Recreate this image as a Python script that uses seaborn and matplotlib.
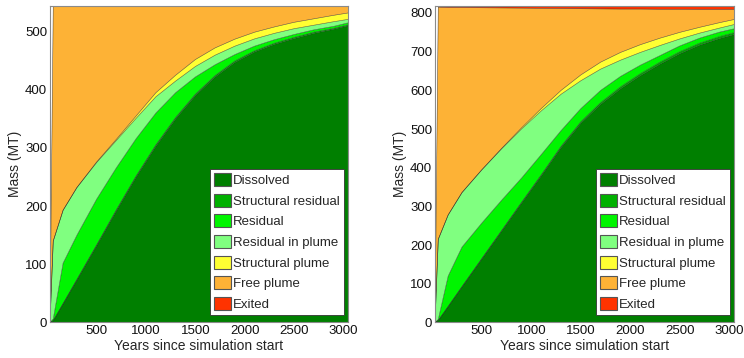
import numpy as np
import pandas as pd
import matplotlib
matplotlib.use("Agg")
import matplotlib.pyplot as plt
from matplotlib.patches import Patch
import seaborn as sns

# ---------------- data ----------------
years = [27, 60, 160, 300, 500, 700, 900, 1100, 1300, 1500, 1700, 1900,
         2100, 2300, 2500, 2700, 2900, 3045]

components = ["Dissolved", "Structural residual", "Residual", "Residual in plume",
              "Structural plume", "Free plume", "Exited"]

# left panel
L_dissolved = [0, 3, 32, 73, 132, 192, 250, 303, 350, 390, 422, 447, 465, 478, 488, 497, 504, 510]
L_struct_res = [0, 0, 0.5, 1, 1.5, 2, 2, 2.5, 2.5, 2.5, 2.5, 2.5, 2, 2, 2, 2, 1.5, 1.5]
L_residual = [0, 3, 69.5, 76, 78.5, 72, 64, 54.5, 42.5, 29.5, 18.5, 11, 8, 6, 5, 4, 3.5, 3.5]
L_res_plume = [0, 134, 91, 82, 63, 47, 35, 28, 20, 18, 16.5, 14.5, 12.5, 11, 10, 8, 8, 6]
L_struct_plume = [0, 0, 0, 0, 1, 2, 4, 7, 10, 12, 12.5, 12, 11.5, 11, 11, 11, 11, 11]
L_free_plume = [0, 404, 351, 312, 268, 229, 189, 149, 119, 92, 72, 57, 45, 36, 28, 22, 16, 12]
L_exited = [0] * 18

# right panel
R_dissolved = [0, 5, 41, 92, 164, 236, 308, 379, 452, 515, 564, 604, 638, 668, 695, 717, 734, 744]
R_struct_res = [0, 0, 0.5, 1, 1.5, 2, 2.5, 3, 3.5, 4, 4.5, 5, 5, 5, 5, 5, 5, 5]
R_residual = [0, 3, 78.5, 102, 91.5, 78, 62.5, 52, 40.5, 34, 31.5, 27, 22, 17, 15, 13, 11.5, 10]
R_res_plume = [0, 207, 158, 141, 137.5, 133, 127, 113, 94, 72, 55, 42, 33, 26, 18, 13, 10.5, 11]
R_struct_plume = [0, 0, 0, 0, 0.5, 1, 3, 6, 10, 15, 18, 20, 20, 19, 17, 15, 14, 13]
R_free_plume = [0, 600, 536, 478, 418.5, 363, 309.5, 259, 211.5, 171, 137.5, 112, 92,
                74.5, 59.5, 46, 34, 26]
R_exited = [0, 3, 4, 4, 4.5, 5, 5.5, 6, 6.5, 7, 7.5, 8, 8, 8.5, 8.5, 9, 9, 9]

x_ticks = [500, 1000, 1500, 2000, 2500, 3000]
L_yticks = [0, 100, 200, 300, 400, 500]
R_yticks = [0, 100, 200, 300, 400, 500, 600, 700, 800]

colors = ["#007F00", "#00B000", "#00F500", "#80FF80", "#FFFF33", "#FDB236", "#FF3300"]

# ---------------- figure ----------------
sns.set_theme(style="white")
plt.rcParams['font.family'] = ['Liberation Sans', 'DejaVu Sans']

fig = plt.figure(figsize=(7.44, 3.58), dpi=100)
ax1 = fig.add_axes([0.0672, 0.0992, 0.4005, 0.884])
ax2 = fig.add_axes([0.5847, 0.0992, 0.4019, 0.884])


def draw(ax, series, ytop, yticks):
    ax.stackplot(years, *series, colors=colors, edgecolor="none", linewidth=0)
    cum = np.cumsum(np.array(series, dtype=float), axis=0)
    rows = []
    for name, c in zip(components[:-1], cum[:-1]):
        for yr, v in zip(years, c):
            rows.append({"year": yr, "mass": v, "component": name})
    df = pd.DataFrame(rows)
    sns.lineplot(data=df, x="year", y="mass", units="component", estimator=None,
                 color="#1a1a1a", linewidth=0.4, alpha=0.7, ax=ax, legend=False)
    ax.set_xlim(years[0], years[-1])
    ax.set_ylim(0, ytop)
    ax.set_xticks(x_ticks)
    ax.set_yticks(yticks)
    ax.tick_params(axis="both", labelsize=9.5, direction="in", length=3,
                   colors="#111111", pad=2)
    ax.set_xlabel("Years since simulation start", fontsize=10, labelpad=1)
    ax.set_ylabel("Mass (MT)", fontsize=10, labelpad=2)
    for s in ax.spines.values():
        s.set_color("#8a8a8a")
        s.set_linewidth(0.8)
    handles = [Patch(facecolor=c, edgecolor="#555555", linewidth=0.8) for c in colors]
    leg = ax.legend(handles, components, loc="lower right", bbox_to_anchor=(1.0, 0.012),
                    fontsize=9.5, frameon=True, fancybox=False, framealpha=1,
                    edgecolor="#333333", handlelength=1.35, handleheight=1.15,
                    handletextpad=0.15, labelspacing=0.5, borderpad=0.3,
                    borderaxespad=0.3)
    leg.get_frame().set_linewidth(0.6)


draw(ax1, [L_dissolved, L_struct_res, L_residual, L_res_plume, L_struct_plume,
           L_free_plume, L_exited], 544, L_yticks)
draw(ax2, [R_dissolved, R_struct_res, R_residual, R_res_plume, R_struct_plume,
           R_free_plume, R_exited], 818, R_yticks)

fig.savefig("out.png", dpi=100)
